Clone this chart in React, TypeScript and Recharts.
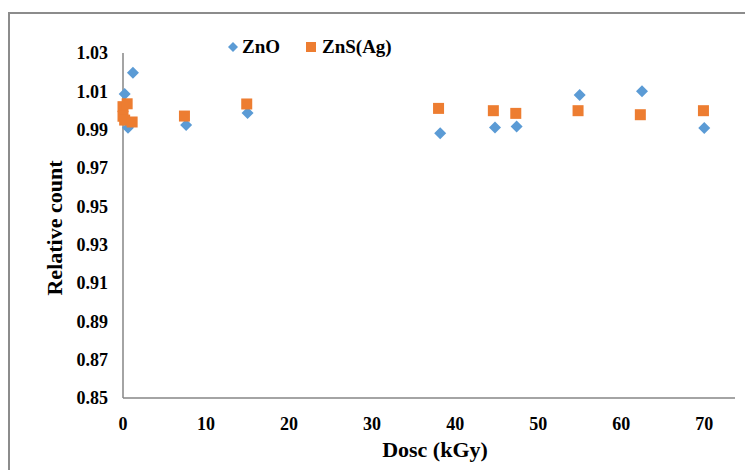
import { ScatterChart, Scatter, XAxis, YAxis } from "recharts";

// dose (kGy) and relative count
const znoDose = [0.2, 1.2, 0.6, 7.6, 15.0, 38.2, 44.8, 47.4, 55.0, 62.5, 70.0];
const znoCount = [1.0086, 1.0197, 0.991, 0.9924, 0.9987, 0.9881, 0.9911, 0.9916, 1.0081, 1.01, 0.9909];

const znsDose = [0, 0.5, 0, 0.2, 1.1, 7.4, 14.9, 38.0, 44.6, 47.3, 54.8, 62.3, 69.9];
const znsCount = [1.002, 1.0035, 0.997, 0.995, 0.994, 0.9971, 1.0034, 1.0011, 0.9999, 0.9985, 0.9999, 0.9978, 0.9999];

const xTicks = [0, 10, 20, 30, 40, 50, 60, 70];
const yTicks = [0.85, 0.87, 0.89, 0.91, 0.93, 0.95, 0.97, 0.99, 1.01, 1.03];

const BLUE = "#5B9BD5";
const ORANGE = "#ED7D31";
const FONT = '"Liberation Serif", "Times New Roman", serif';

const znoData = znoDose.map((x, i) => ({ x, y: znoCount[i] }));
const znsData = znsDose.map((x, i) => ({ x, y: znsCount[i] }));

const Diamond = (props: any) => {
  const { cx, cy } = props;
  const r = 6;
  return (
    <polygon
      points={`${cx},${cy - r} ${cx + r},${cy} ${cx},${cy + r} ${cx - r},${cy}`}
      fill={BLUE}
    />
  );
};

const Square = (props: any) => {
  const { cx, cy } = props;
  const s = 11;
  return <rect x={cx - s / 2} y={cy - s / 2} width={s} height={s} fill={ORANGE} />;
};

const tickStyle = { fill: "#000", fontSize: 18, fontWeight: "bold", fontFamily: FONT };

export default function App() {
  return (
    <div
      style={{
        position: "absolute",
        left: 0,
        top: 0,
        width: 745,
        height: 470,
        overflow: "hidden",
        background: "#fff",
        fontFamily: FONT,
      }}
    >
      {/* outer chart frame */}
      <div
        style={{
          position: "absolute",
          left: 8,
          top: 12,
          width: 760,
          height: 480,
          border: "2px solid #8c8c8c",
        }}
      />

      <div style={{ position: "absolute", left: 0, top: 0 }}>
        <ScatterChart width={745} height={470} margin={{ top: 53, right: 10, bottom: 32, left: 63 }}>
          <XAxis
            type="number"
            dataKey="x"
            domain={[0, 73.7]}
            ticks={xTicks}
            interval={0}
            height={40}
            axisLine={{ stroke: "#868686", strokeWidth: 1.5 }}
            tickLine={false}
            tickSize={0}
            tickMargin={19}
            tick={tickStyle}
          />
          <YAxis
            type="number"
            dataKey="y"
            domain={[0.85, 1.03]}
            ticks={yTicks}
            interval={0}
            width={60}
            axisLine={{ stroke: "#868686", strokeWidth: 1.5 }}
            tickLine={false}
            tickSize={0}
            tickMargin={15}
            tick={tickStyle}
            tickFormatter={(v: number) => v.toFixed(2)}
          />
          <Scatter name="ZnO" data={znoData} shape={Diamond} isAnimationActive={false} />
          <Scatter name="ZnS(Ag)" data={znsData} shape={Square} isAnimationActive={false} />
        </ScatterChart>
      </div>

      {/* legend */}
      <div
        style={{
          position: "absolute",
          left: 226,
          top: 36,
          width: 180,
          height: 24,
          fontSize: 19,
          fontWeight: "bold",
          lineHeight: "22px",
        }}
      >
        <svg width={12} height={12} style={{ position: "absolute", left: 1, top: 5 }}>
          <polygon points="6,1 11,6 6,11 1,6" fill={BLUE} />
        </svg>
        <span style={{ position: "absolute", left: 16, top: 0 }}>ZnO</span>
        <svg width={10} height={10} style={{ position: "absolute", left: 80, top: 6 }}>
          <rect x={0} y={0} width={10} height={10} fill={ORANGE} />
        </svg>
        <span style={{ position: "absolute", left: 96, top: 0 }}>ZnS(Ag)</span>
      </div>

      {/* axis titles */}
      <div
        style={{
          position: "absolute",
          left: 335,
          top: 438,
          width: 200,
          textAlign: "center",
          fontSize: 22,
          fontWeight: "bold",
          lineHeight: "24px",
        }}
      >
        Dosc (kGy)
      </div>
      <div
        style={{
          position: "absolute",
          left: 55 - 100,
          top: 228 - 12,
          width: 200,
          textAlign: "center",
          fontSize: 22,
          fontWeight: "bold",
          lineHeight: "24px",
          transform: "rotate(-90deg)",
        }}
      >
        Relative count
      </div>
    </div>
  );
}
